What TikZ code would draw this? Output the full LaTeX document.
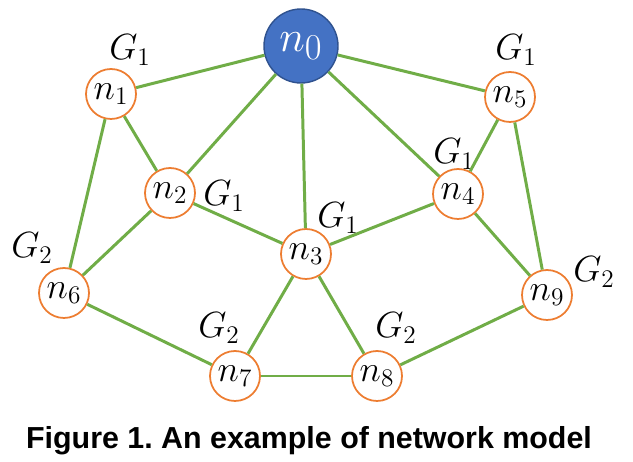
\documentclass[tikz,border=0pt]{standalone}
\usepackage{amsmath}
\usepackage{fontspec}
\setmainfont{Liberation Sans}
\usepackage{tikz}
\usetikzlibrary{positioning}

\definecolor{edgegreen}{RGB}{112,173,71}
\definecolor{ringorange}{RGB}{237,125,49}
\definecolor{rootblue}{RGB}{68,114,196}
\definecolor{rootborder}{RGB}{47,82,143}

\frenchspacing

\begin{document}
\begin{tikzpicture}[x=0.02cm, y=-0.02cm]
      \tikzstyle{member} = [circle, minimum size=1cm, inner sep=0pt, draw=ringorange, line width=1pt, fill=white, font=\fontsize{20}{20}\selectfont]
      \tikzstyle{root} = [circle, minimum size=1.48cm, inner sep=0pt, draw=rootborder, line width=0.8pt, fill=rootblue, text=white, font=\fontsize{28}{28}\selectfont]
      \tikzstyle{group} = [inner sep=0pt, font=\fontsize{22}{22}\selectfont]
      \tikzstyle{link} = [edgegreen, line width=1.7pt]

      \useasboundingbox (0,0) rectangle (633,462);

      \node (n0) [root] at (301,46) {$n_0$};
      \node (n1) [member] at (111,94) {$n_1$};
      \node (n2) [member] at (170,193) {$n_2$};
      \node (n3) [member] at (306,254) {$n_3$};
      \node (n4) [member] at (458,194) {$n_4$};
      \node (n5) [member] at (510,97) {$n_5$};
      \node (n6) [member] at (64,293) {$n_6$};
      \node (n7) [member] at (235,376) {$n_7$};
      \node (n8) [member] at (377,376) {$n_8$};
      \node (n9) [member] at (547,295) {$n_9$};

      \node (g1) [group] at (130,50) {$G_1$};
      \node (g5) [group] at (516,50) {$G_1$};
      \node (g2) [group] at (224,196) {$G_1$};
      \node (g4) [group] at (454,154) {$G_1$};
      \node (g3) [group] at (338,218) {$G_1$};
      \node (g6) [group] at (32,248) {$G_2$};
      \node (g9) [group] at (594,272) {$G_2$};
      \node (g7) [group] at (219,328) {$G_2$};
      \node (g8) [group] at (396,328) {$G_2$};

      \draw [link] (n0) -- (n1);
      \draw [link] (n0) -- (n5);
      \draw [link] (n0) -- (n2);
      \draw [link] (n0) -- (n3);
      \draw [link] (n0) -- (n4);

      \draw [link] (n1) -- (n2);
      \draw [link] (n1) -- (n6);
      \draw [link] (n5) -- (n4);
      \draw [link] (n5) -- (n9);

      \draw [link] (n2) -- (n6);
      \draw [link] (n2) -- (n3);
      \draw [link] (n4) -- (n3);
      \draw [link] (n4) -- (n9);

      \draw [link] (n3) -- (n7);
      \draw [link] (n3) -- (n8);
      \draw [link] (n6) -- (n7);
      \draw [link] (n7) -- (n8);
      \draw [link] (n8) -- (n9);

      \node (caption) [font=\fontsize{17.3}{18}\selectfont\bfseries] at (309,441) {Figure 1. An example of network model};

    \end{tikzpicture}
\end{document}
